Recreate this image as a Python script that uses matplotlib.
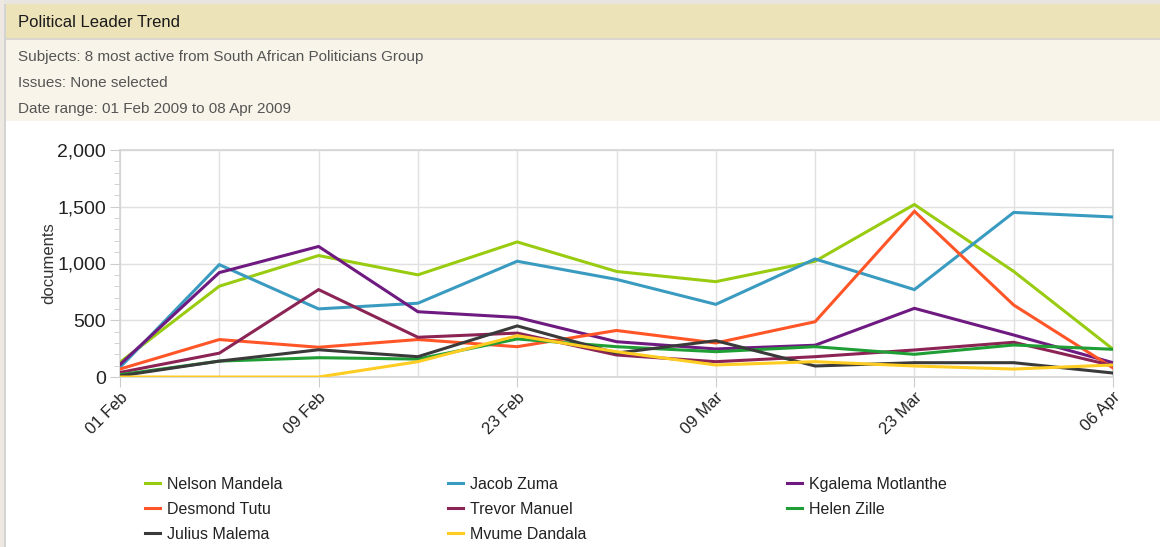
import matplotlib
matplotlib.use("Agg")
import matplotlib.pyplot as plt
from matplotlib.patches import Rectangle
from matplotlib.ticker import MultipleLocator, FuncFormatter

plt.rcParams['font.family'] = ['Liberation Sans', 'DejaVu Sans']

# weekly buckets, labelled every second week
weeks = list(range(11))
tick_labels = ['01 Feb', '09 Feb', '23 Feb', '09 Mar', '23 Mar', '06 Apr']

nelson_mandela = [130, 800, 1070, 900, 1190, 930, 840, 1020, 1520, 930, 245]
jacob_zuma = [85, 990, 600, 650, 1020, 860, 640, 1040, 770, 1450, 1410]
kgalema_motlanthe = [110, 920, 1150, 575, 525, 311, 247, 280, 605, 370, 126]
desmond_tutu = [70, 330, 262, 330, 267, 410, 300, 487, 1460, 634, 80]
trevor_manuel = [40, 210, 770, 350, 387, 194, 135, 179, 238, 306, 100]
helen_zille = [20, 140, 170, 158, 335, 267, 223, 267, 200, 282, 244]
julius_malema = [10, 140, 240, 179, 450, 211, 320, 97, 126, 126, 35]
mvume_dandala = [0, 0, 0, 135, 364, 223, 106, 135, 97, 70, 106]

series = [
    ('Nelson Mandela', nelson_mandela, '#99cc11'),
    ('Jacob Zuma', jacob_zuma, '#3a9bc0'),
    ('Kgalema Motlanthe', kgalema_motlanthe, '#6e1a80'),
    ('Desmond Tutu', desmond_tutu, '#ff5527'),
    ('Trevor Manuel', trevor_manuel, '#8b2455'),
    ('Helen Zille', helen_zille, '#1f9e35'),
    ('Julius Malema', julius_malema, '#3a3a3a'),
    ('Mvume Dandala', mvume_dandala, '#ffcc22'),
]

W, H = 1160, 547


def fx(px):
    return px / W


def fy(py):
    return 1 - py / H


fig = plt.figure(figsize=(W / 100, H / 100), dpi=100)
fig.patch.set_facecolor('white')

# header panels
fig.patches.append(Rectangle((0, fy(4)), 1, 4 / H, transform=fig.transFigure,
                             facecolor='#e8e4df', edgecolor='none', zorder=0))
fig.patches.append(Rectangle((0, fy(38)), 1, 34 / H, transform=fig.transFigure,
                             facecolor='#ede3b9', edgecolor='none', zorder=0))
fig.patches.append(Rectangle((0, fy(40)), 1, 2 / H, transform=fig.transFigure,
                             facecolor='#d9d7cf', edgecolor='none', zorder=0))
fig.patches.append(Rectangle((0, fy(121)), 1, 81 / H, transform=fig.transFigure,
                             facecolor='#f8f4e9', edgecolor='none', zorder=0))
fig.patches.append(Rectangle((0, 0), fx(4), 1, transform=fig.transFigure,
                             facecolor='#ede8e2', edgecolor='none', zorder=0))
fig.patches.append(Rectangle((fx(4), 0), fx(1.5), fy(4), transform=fig.transFigure,
                             facecolor='#d3d3d3', edgecolor='none', zorder=0))

fig.text(fx(18), fy(22.5), 'Political Leader Trend', fontsize=12, color='#1a1a1a', va='center')
info = ['Subjects: 8 most active from South African Politicians Group',
        'Issues: None selected',
        'Date range: 01 Feb 2009 to 08 Apr 2009']
for i, line in enumerate(info):
    fig.text(fx(18), fy(57.5 + 25.5 * i), line, fontsize=11, color='#555555', va='center')

ax = fig.add_axes([fx(120), fy(377), fx(1113) - fx(120), (377 - 150) / H])

lines = {}
for name, vals, col in series:
    lines[name], = ax.plot(weeks, vals, color=col, lw=2.2, label=name,
                           solid_joinstyle='miter', zorder=3)

ax.set_xlim(0, 10)
ax.set_ylim(0, 2000)
ax.set_xticks(weeks[::2])
ax.set_xticklabels(tick_labels, rotation=45, ha='right', rotation_mode='anchor')
ax.set_xticks(weeks[1::2], minor=True)
ax.yaxis.set_major_locator(MultipleLocator(500))
ax.yaxis.set_minor_locator(MultipleLocator(100))
ax.yaxis.set_major_formatter(FuncFormatter(lambda v, p: f'{int(v):,}'))

ax.grid(True, which='major', color='#e0e0e0', lw=1)
ax.grid(True, which='minor', axis='x', color='#e0e0e0', lw=1)
ax.set_axisbelow(True)

for s in ax.spines.values():
    s.set_color('#d4d4d4')
    s.set_linewidth(1.2)

ax.tick_params(axis='x', which='major', length=7, color='#cccccc', labelsize=12,
               labelcolor='#222222', pad=2)
ax.tick_params(axis='x', which='minor', length=0)
ax.tick_params(axis='y', which='major', length=7, color='#cccccc', labelsize=14,
               labelcolor='#222222', pad=3)
ax.tick_params(axis='y', which='minor', length=4, color='#cccccc')
ax.set_ylabel('documents', fontsize=12, color='#333333', va='center')
ax.yaxis.set_label_coords((49 - 120) / (1113 - 120), 0.5)

# legend, three columns filled row by row
cols = [['Nelson Mandela', 'Desmond Tutu', 'Julius Malema'],
        ['Jacob Zuma', 'Trevor Manuel', 'Mvume Dandala'],
        ['Kgalema Motlanthe', 'Helen Zille']]
col_x = [145, 448, 787]
for names, x0 in zip(cols, col_x):
    fig.legend([lines[n] for n in names], names, loc='upper left',
               bbox_to_anchor=(fx(x0), fy(477)), frameon=False, fontsize=11.5,
               handlelength=0.95, handletextpad=0.45, labelspacing=0.62,
               borderaxespad=0, borderpad=0, labelcolor='#222222')

fig.savefig('out.png', dpi=100)
